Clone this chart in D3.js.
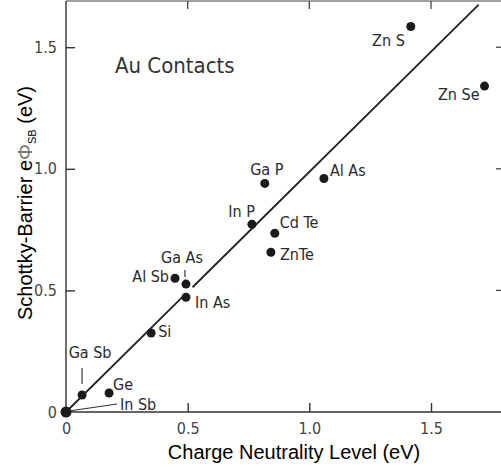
<!DOCTYPE html>
<html>
<head>
<meta charset="utf-8">
<script src="https://cdn.jsdelivr.net/npm/d3@7/dist/d3.min.js"></script>
<style>
  body { margin: 0; background: #fff; }
  .axis path, .axis line { stroke: #333; stroke-width: 1.4; }
  .axis text { font-family: "DejaVu Sans Condensed", "DejaVu Sans", sans-serif; font-stretch: condensed; font-size: 16px; fill: #444; }
  .pt-label { font-family: "DejaVu Sans Condensed", "DejaVu Sans", sans-serif; font-stretch: condensed; font-size: 16px; fill: #2a2a2a; }
  .title { font-family: "Liberation Sans", Arial, sans-serif; font-size: 20px; fill: #000; }
</style>
</head>
<body>
<svg id="chart" width="501" height="467"></svg>
<script>
// semiconductors: charge neutrality level (x) vs Schottky barrier (y), in eV
const materials = ["Zn S", "Zn Se", "Ga P", "Al As", "In P", "Cd Te", "ZnTe", "Ga As", "Al Sb", "In As", "Si", "Ga Sb", "Ge", "In Sb"];
const cnl =       [1.417, 1.72, 0.817, 1.06, 0.764, 0.858, 0.842, 0.493, 0.448, 0.493, 0.35, 0.066, 0.177, 0.0];
const barrier =   [1.585, 1.34, 0.94, 0.96, 0.772, 0.735, 0.657, 0.526, 0.55, 0.472, 0.325, 0.07, 0.078, 0.0];
const xTicks = [0, 0.5, 1.0, 1.5];
const yTicks = [0, 0.5, 1.0, 1.5];
const tickLabels = ["0", "0.5", "1.0", "1.5"];
// fitted line, drawn in two pieces (gap between In As and Ga As)
const fitX = [[0, 0.478], [0.52, 1.696]];
const fitY = [[0, 0.472], [0.513, 1.675]];

// label placement relative to each dot: [dx, dy, anchor]
const labelPos = [
  [-6, 19, "end"], [-5, 14, "end"], [2, -8, "middle"], [6, -3, "start"],
  [3, -7, "end"], [5, -5, "start"], [9, 8, "start"], [-4, -21, "middle"],
  [-6, 4, "end"], [9, 11, "start"], [7, 4, "start"], [8, -37, "middle"],
  [4, -3, "start"], [54, -2, "start"]
];

const svg = d3.select('#chart');

const xScale = d3.scaleLinear().domain([0, 1.8]).range([66, 504]);
const yScale = d3.scaleLinear().domain([0, 1.69]).range([412, 1]);

// frame lines
svg.append('line').attr('x1', xScale(0)).attr('x2', xScale(1.8)).attr('y1', yScale(1.69)).attr('y2', yScale(1.69))
  .attr('stroke', '#444').attr('stroke-width', 1.2);
svg.append('line').attr('x1', xScale(1.8)).attr('x2', xScale(1.8)).attr('y1', yScale(0)).attr('y2', yScale(1.69))
  .attr('stroke', '#444').attr('stroke-width', 1.2);

const fmt = v => tickLabels[xTicks.indexOf(v)];

// bottom axis
const xAxis = svg.append('g').attr('class', 'axis')
  .attr('transform', `translate(0, ${yScale(0)})`)
  .call(d3.axisBottom(xScale).tickValues(xTicks).tickSize(-9).tickPadding(11).tickFormat(fmt));
xAxis.selectAll('.tick').filter(d => d === 0).select('line').remove();

// left axis
const yAxis = svg.append('g').attr('class', 'axis')
  .attr('transform', `translate(${xScale(0)}, 0)`)
  .call(d3.axisLeft(yScale).tickValues(yTicks).tickSize(-9).tickPadding(9).tickFormat(fmt));
yAxis.selectAll('.tick').filter(d => d === 0).select('line').remove();
[xAxis, yAxis].forEach(a => a.select('.domain').attr('d', null));
svg.append('line').attr('x1', xScale(0)).attr('x2', xScale(1.8)).attr('y1', yScale(0)).attr('y2', yScale(0))
  .attr('stroke', '#333').attr('stroke-width', 1.4);
svg.append('line').attr('x1', xScale(0)).attr('x2', xScale(0)).attr('y1', yScale(0)).attr('y2', yScale(1.69))
  .attr('stroke', '#333').attr('stroke-width', 1.4);

// top and right ticks
const inner = xTicks.filter(d => d > 0);
svg.append('g').selectAll('line').data(inner).join('line')
  .attr('x1', d => xScale(d)).attr('x2', d => xScale(d))
  .attr('y1', yScale(1.69)).attr('y2', yScale(1.69) + 8)
  .attr('stroke', '#444').attr('stroke-width', 1.3);
svg.append('g').selectAll('line').data(inner).join('line')
  .attr('x1', xScale(1.8)).attr('x2', xScale(1.8) - 8)
  .attr('y1', d => yScale(d)).attr('y2', d => yScale(d))
  .attr('stroke', '#444').attr('stroke-width', 1.3);

// fit line
const line = d3.line().x(d => xScale(d[0])).y(d => yScale(d[1]));
fitX.forEach((xs, i) => {
  svg.append('path')
    .attr('d', line(xs.map((x, j) => [x, fitY[i][j]])))
    .attr('stroke', '#222').attr('stroke-width', 1.8).attr('fill', 'none');
});

// pointer lines for Ga Sb, Ga As, In Sb
const ptr = (i, x1, y1, x2, y2) => svg.append('line')
  .attr('x1', xScale(cnl[i]) + x1).attr('y1', yScale(barrier[i]) + y1)
  .attr('x2', xScale(cnl[i]) + x2).attr('y2', yScale(barrier[i]) + y2)
  .attr('stroke', '#333').attr('stroke-width', 1.2);
ptr(materials.indexOf("Ga Sb"), 0, -27, 0, -11);
ptr(materials.indexOf("Ga As"), -1, -14, -1, -7);
ptr(materials.indexOf("In Sb"), 3, -1, 51, -8);

// dots
svg.append('g').selectAll('circle').data(materials).join('circle')
  .attr('cx', (d, i) => xScale(cnl[i]))
  .attr('cy', (d, i) => yScale(barrier[i]))
  .attr('r', (d, i) => cnl[i] === 0 ? 5.5 : 4.5)
  .attr('fill', '#1a1a1a');

// labels
svg.append('g').selectAll('text').data(materials).join('text')
  .attr('class', 'pt-label')
  .attr('x', (d, i) => xScale(cnl[i]) + labelPos[i][0])
  .attr('y', (d, i) => yScale(barrier[i]) + labelPos[i][1])
  .attr('text-anchor', (d, i) => labelPos[i][2])
  .text(d => d);

svg.append('text')
  .attr('class', 'pt-label')
  .attr('x', 115).attr('y', 73)
  .style('font-size', '22px').style('fill', '#333')
  .text('Au Contacts');

// axis titles
svg.append('text')
  .attr('class', 'title')
  .attr('x', 294).attr('y', 459)
  .attr('text-anchor', 'middle')
  .text('Charge Neutrality Level (eV)');

const yTitle = svg.append('text')
  .attr('class', 'title')
  .attr('transform', 'translate(32, 203) rotate(-90)')
  .attr('text-anchor', 'middle');
yTitle.append('tspan').text('Schottky-Barrier e');
yTitle.append('tspan').text('Φ').style('fill', '#777').style('font-weight', '300');
yTitle.append('tspan').text('SB').style('font-size', '11px').attr('dy', 4);
yTitle.append('tspan').text(' (eV)').attr('dy', -4);
</script>
</body>
</html>
